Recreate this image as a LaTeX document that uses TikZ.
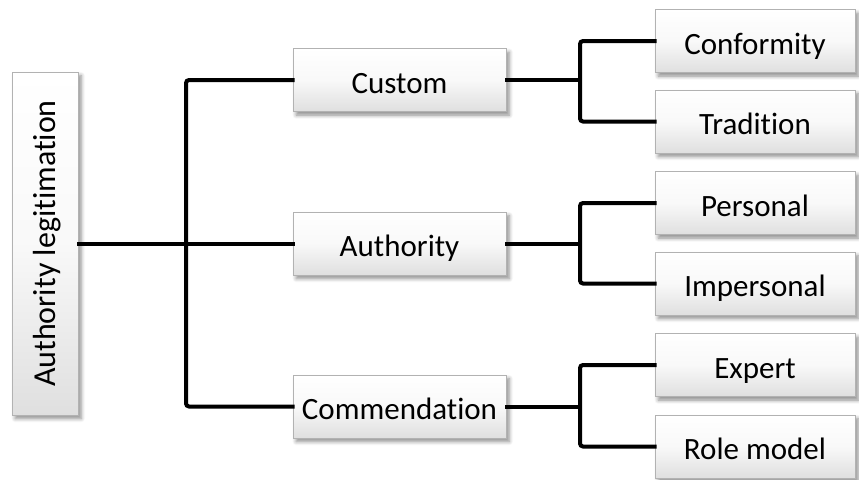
\documentclass[tikz,border=0pt]{standalone}
\usepackage{fontspec}
\setmainfont{Carlito}[Ligatures=CommonOff]
\usetikzlibrary{shadows.blur}

\begin{document}
\begin{tikzpicture}[x=0.5pt, y=-0.5pt,
  box/.style={draw=gray!60, line width=0.5pt, top color=white, bottom color=gray!25,
    middle color=white!95!gray,
    blur shadow={shadow xshift=1.6pt, shadow yshift=-1.8pt, shadow blur steps=6, shadow opacity=45},
    inner sep=0pt, text height=13pt, text depth=0pt,
    font=\fontsize{15.5}{18}\selectfont, text=black},
  midbox/.style={box, minimum width=106.5pt, minimum height=31.5pt},
  leafbox/.style={box, minimum width=100pt, minimum height=31.5pt},
  link/.style={line width=2pt, rounded corners=1.5pt, line cap=rect}]

\useasboundingbox (0,0) rectangle (859,479);

% root, set sideways
\node[box, rotate=90, minimum width=171.5pt, minimum height=33pt,
      text height=10.5pt, font=\fontsize{16}{19}\selectfont]
      (root) at (45,243.5) {Authority legitimation};

% middle level
\node[midbox] (custom) at (399.5,80)    {Custom};
\node[midbox] (auth)   at (399.5,243.5) {Authority};
\node[midbox] (comm)   at (399.5,406.5) {Commendation};

% leaves
\node[leafbox] (conf)  at (755,41)    {Conformity};
\node[leafbox] (trad)  at (755,121.5) {Tradition};
\node[leafbox] (pers)  at (755,203)   {Personal};
\node[leafbox] (imp)   at (755,283.5) {Impersonal};
\node[leafbox] (exp)   at (755,365)   {Expert};
\node[leafbox] (role)  at (755,446.5) {Role model};

% branch points
\coordinate (t0) at (186,243.5);
\coordinate (t1) at (580,80);
\coordinate (t2) at (580,243.5);
\coordinate (t3) at (580,406.5);

% connectors
\draw[link] (root.south) -- (t0);
\draw[link] (custom.west) -| (t0) |- (comm.west);
\draw[link] (t0) -- (auth.west);

\draw[link] (custom.east) -- (t1);
\draw[link] (conf.west) -| (t1) |- (trad.west);

\draw[link] (auth.east) -- (t2);
\draw[link] (pers.west) -| (t2) |- (imp.west);

\draw[link] (comm.east) -- (t3);
\draw[link] (exp.west) -| (t3) |- (role.west);
\end{tikzpicture}
\end{document}
